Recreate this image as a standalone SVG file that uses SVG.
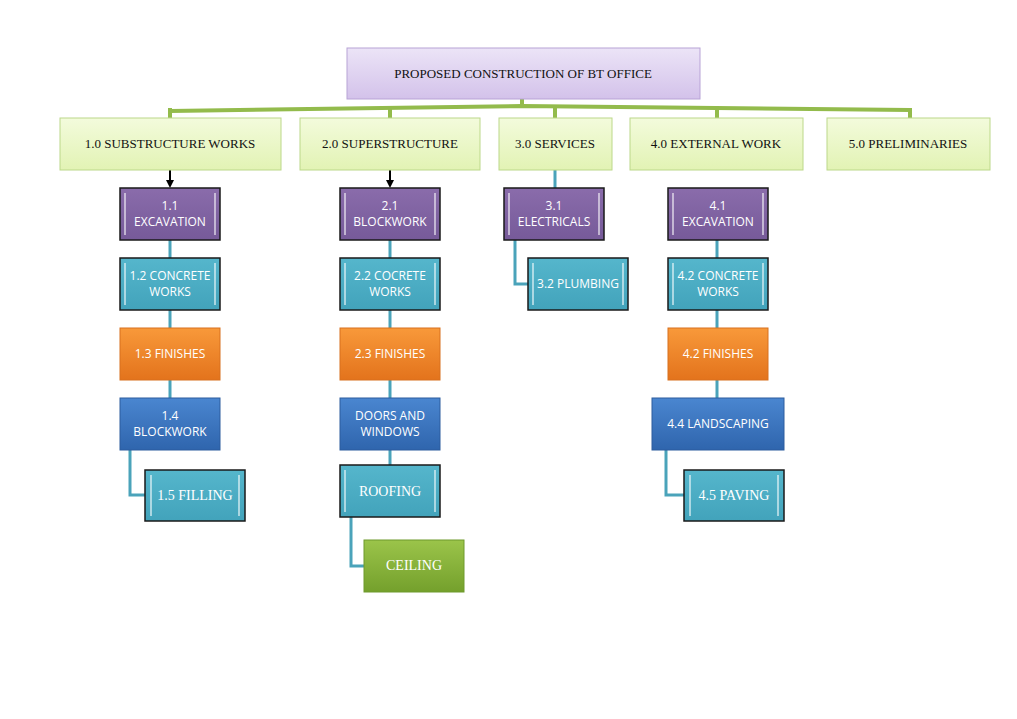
<svg xmlns="http://www.w3.org/2000/svg" width="1017" height="719" viewBox="0 0 1017 719">
<defs>
<linearGradient id="gTop" x1="0" y1="0" x2="0" y2="1"><stop offset="0" stop-color="#ece4f7"/><stop offset="1" stop-color="#d3c2ea"/></linearGradient>
<linearGradient id="gL1" x1="0" y1="0" x2="0" y2="1"><stop offset="0" stop-color="#f3fbdc"/><stop offset="1" stop-color="#e2f3b4"/></linearGradient>
<linearGradient id="gPur" x1="0" y1="0" x2="0" y2="1"><stop offset="0" stop-color="#8a6cab"/><stop offset="1" stop-color="#765a99"/></linearGradient>
<linearGradient id="gCy" x1="0" y1="0" x2="0" y2="1"><stop offset="0" stop-color="#55b6cc"/><stop offset="1" stop-color="#42a3bb"/></linearGradient>
<linearGradient id="gOr" x1="0" y1="0" x2="0" y2="1"><stop offset="0" stop-color="#f8993a"/><stop offset="1" stop-color="#e3731c"/></linearGradient>
<linearGradient id="gBl" x1="0" y1="0" x2="0" y2="1"><stop offset="0" stop-color="#4a86d0"/><stop offset="1" stop-color="#2f65ad"/></linearGradient>
<linearGradient id="gGr" x1="0" y1="0" x2="0" y2="1"><stop offset="0" stop-color="#9bc44a"/><stop offset="1" stop-color="#74a02c"/></linearGradient>
<marker id="arr" markerWidth="8" markerHeight="8" refX="4" refY="4" orient="auto" markerUnits="userSpaceOnUse"><path d="M0,0 L8,4 L0,8 z" fill="#000"/></marker>
<style>
.serif{font-family:"Liberation Serif","Times New Roman",serif;font-size:13px;fill:#111;text-anchor:middle}
.sans{font-family:"Open Sans","Liberation Sans",sans-serif;font-size:12px;fill:#fff;text-anchor:middle}
.wserif{font-family:"Liberation Serif","Times New Roman",serif;font-size:14px;fill:#fff;text-anchor:middle}
.edge{stroke:#1a1a1a;stroke-width:1.5}
.top{fill:url(#gTop);stroke:#b8a3d6}
.l1{fill:url(#gL1);stroke:#bcd88a}
.pur{fill:url(#gPur)}
.cy{fill:url(#gCy)}
.or{fill:url(#gOr);stroke:#d8701e}
.bl{fill:url(#gBl);stroke:#2c5d9e}
.gr{fill:url(#gGr);stroke:#6f9a2c}
.bev{stroke:#ffffff;stroke-opacity:0.55;stroke-width:2;fill:none}
.cyl{stroke:#4aa3ba;stroke-width:3;fill:none}
.gl{stroke:#93bb4c;stroke-width:4;fill:none}
</style>
</defs>
<g id="connectors">
<line class="gl" x1="522" y1="99" x2="522" y2="108"/>
<path class="gl" d="M170,111 L522,106 L910,110"/>
<line class="gl" x1="170" y1="108" x2="170" y2="118"/>
<line class="gl" x1="390" y1="108" x2="390" y2="118"/>
<line class="gl" x1="555" y1="108" x2="555" y2="118"/>
<line class="gl" x1="717" y1="108" x2="717" y2="118"/>
<line class="gl" x1="910" y1="108" x2="910" y2="118"/>
<line x1="170" y1="170" x2="170" y2="184" stroke="#000" stroke-width="2" marker-end="url(#arr)"/>
<line x1="390" y1="170" x2="390" y2="184" stroke="#000" stroke-width="2" marker-end="url(#arr)"/>
<path class="cyl" d="M170,240 V258 M170,310 V328 M170,380 V398 M130,450 V495 H145"/>
<path class="cyl" d="M390,240 V258 M390,310 V328 M390,380 V398 M390,450 V465 M351,517 V566 H364"/>
<path class="cyl" d="M555,170 V188 M515,240 V284 H528"/>
<path class="cyl" d="M717,240 V258 M717,310 V328 M717,380 V398 M666,450 V495 H684"/>
</g>
<g id="n0"><rect class="top" x="347" y="48" width="353" height="51"/><text class="serif" x="523" y="78">PROPOSED CONSTRUCTION OF BT OFFICE</text></g>
<g id="n1"><rect class="l1" x="60" y="118" width="221" height="52"/><text class="serif" x="170" y="148">1.0   SUBSTRUCTURE WORKS</text></g>
<g id="n2"><rect class="l1" x="300" y="118" width="180" height="52"/><text class="serif" x="390" y="148">2.0   SUPERSTRUCTURE</text></g>
<g id="n3"><rect class="l1" x="499" y="118" width="113" height="52"/><text class="serif" x="555" y="148">3.0   SERVICES</text></g>
<g id="n4"><rect class="l1" x="630" y="118" width="173" height="52"/><text class="serif" x="716" y="148">4.0  EXTERNAL WORK</text></g>
<g id="n5"><rect class="l1" x="827" y="118" width="163" height="52"/><text class="serif" x="908" y="148">5.0   PRELIMINARIES</text></g>

<g id="n11"><rect class="pur edge" x="120" y="188" width="100" height="52"/><path class="bev" d="M125,193 V235 M215,193 V235"/><text class="sans" x="170" y="210">1.1</text><text class="sans" x="170" y="226">EXCAVATION</text></g>
<g id="n12"><rect class="cy edge" x="120" y="258" width="100" height="52"/><path class="bev" d="M125,263 V305 M215,263 V305"/><text class="sans" x="170" y="280">1.2  CONCRETE</text><text class="sans" x="170" y="296">WORKS</text></g>
<g id="n13"><rect class="or" x="120" y="328" width="100" height="52"/><text class="sans" x="170" y="358">1.3  FINISHES</text></g>
<g id="n14"><rect class="bl" x="120" y="398" width="100" height="52"/><text class="sans" x="170" y="420">1.4</text><text class="sans" x="170" y="436">BLOCKWORK</text></g>
<g id="n15"><rect class="cy edge" x="145" y="470" width="100" height="51"/><path class="bev" d="M151,475 V516 M239,475 V516"/><text class="wserif" x="195" y="500">1.5  FILLING</text></g>

<g id="n21"><rect class="pur edge" x="340" y="188" width="100" height="52"/><path class="bev" d="M345,193 V235 M435,193 V235"/><text class="sans" x="390" y="210">2.1</text><text class="sans" x="390" y="226">BLOCKWORK</text></g>
<g id="n22"><rect class="cy edge" x="340" y="258" width="100" height="52"/><path class="bev" d="M345,263 V305 M435,263 V305"/><text class="sans" x="390" y="280">2.2  COCRETE</text><text class="sans" x="390" y="296">WORKS</text></g>
<g id="n23"><rect class="or" x="340" y="328" width="100" height="52"/><text class="sans" x="390" y="358">2.3  FINISHES</text></g>
<g id="n24"><rect class="bl" x="340" y="398" width="100" height="52"/><text class="sans" x="390" y="420">DOORS AND</text><text class="sans" x="390" y="436">WINDOWS</text></g>
<g id="n25"><rect class="cy edge" x="340" y="465" width="100" height="52"/><path class="bev" d="M345,470 V512 M435,470 V512"/><text class="wserif" x="390" y="496">ROOFING</text></g>
<g id="n26"><rect class="gr" x="364" y="540" width="100" height="52"/><text class="wserif" x="414" y="570">CEILING</text></g>

<g id="n31"><rect class="pur edge" x="504" y="188" width="100" height="52"/><path class="bev" d="M509,193 V235 M599,193 V235"/><text class="sans" x="554" y="210">3.1</text><text class="sans" x="554" y="226">ELECTRICALS</text></g>
<g id="n32"><rect class="cy edge" x="528" y="258" width="100" height="52"/><path class="bev" d="M533,263 V305 M623,263 V305"/><text class="sans" x="578" y="288">3.2  PLUMBING</text></g>

<g id="n41"><rect class="pur edge" x="668" y="188" width="100" height="52"/><path class="bev" d="M673,193 V235 M763,193 V235"/><text class="sans" x="718" y="210">4.1</text><text class="sans" x="718" y="226">EXCAVATION</text></g>
<g id="n42"><rect class="cy edge" x="668" y="258" width="100" height="52"/><path class="bev" d="M673,263 V305 M763,263 V305"/><text class="sans" x="718" y="280">4.2  CONCRETE</text><text class="sans" x="718" y="296">WORKS</text></g>
<g id="n43"><rect class="or" x="668" y="328" width="100" height="52"/><text class="sans" x="718" y="358">4.2  FINISHES</text></g>
<g id="n44"><rect class="bl" x="652" y="398" width="132" height="52"/><text class="sans" x="718" y="428">4.4  LANDSCAPING</text></g>
<g id="n45"><rect class="cy edge" x="684" y="470" width="100" height="51"/><path class="bev" d="M690,475 V516 M778,475 V516"/><text class="wserif" x="734" y="500">4.5 PAVING</text></g>
</svg>
